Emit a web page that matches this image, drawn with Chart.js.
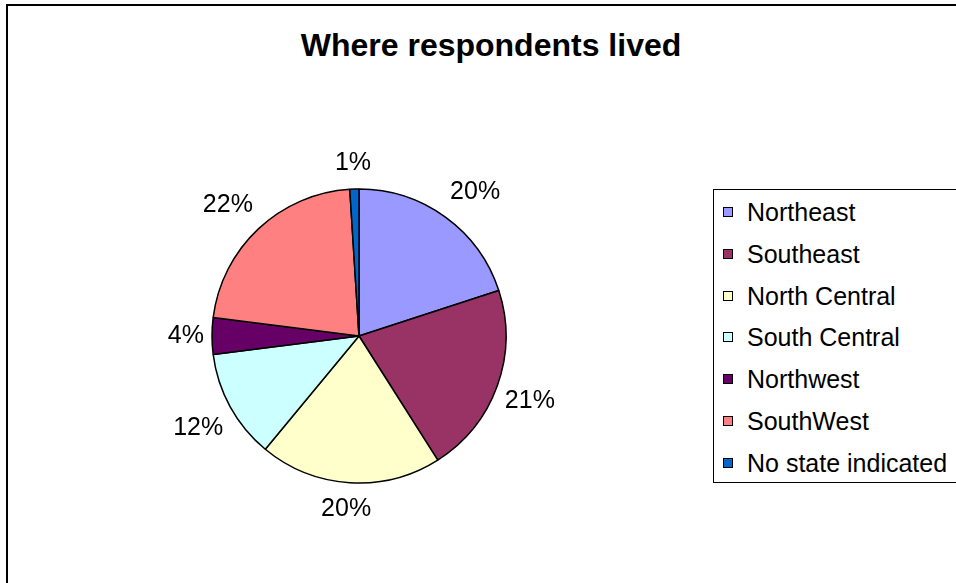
<!DOCTYPE html>
<html>
<head>
<meta charset="utf-8">
<title>Where respondents lived</title>
<script src="https://cdn.jsdelivr.net/npm/chart.js@4"></script>
<style>
  html, body { margin: 0; padding: 0; background: #fff; overflow: hidden; }
  body { width: 956px; height: 583px; position: relative; font-family: Arial, "Liberation Sans", sans-serif; }
  #frame { position: absolute; left: 6px; top: 4px; width: 1000px; height: 700px; border: 2px solid #000; box-sizing: border-box; }
  #title { position: absolute; left: 0; top: 28px; width: 982px; text-align: center; font-weight: bold; font-size: 32px; line-height: 34px; color: #000; }
  #chart { position: absolute; left: 0; top: 0; }
  #legend { position: absolute; left: 713px; top: 189px; width: 300px; height: 294px; border: 1px solid #000; box-sizing: border-box; background: #fff; }
  .item { position: absolute; left: 0; height: 30px; line-height: 30px; font-size: 25px; color: #000; white-space: nowrap; }
  .item span.box { position: absolute; left: 9px; top: 10px; width: 10px; height: 10px; border: 1px solid #000; box-sizing: border-box; }
  .item span.txt { position: absolute; left: 33px; top: 0; }
</style>
</head>
<body>
<div id="frame"></div>
<div id="title">Where respondents lived</div>
<canvas id="chart" width="956" height="583"></canvas>
<div id="legend"></div>

<script>
// Regions and share of respondents (%)
const regions = ["Northeast", "Southeast", "North Central", "South Central", "Northwest", "SouthWest", "No state indicated"];
const shares = [20, 21, 20, 12, 4, 22, 1];
const colors = ["#9999FF", "#993366", "#FFFFCC", "#CCFFFF", "#660066", "#FF8080", "#0066CC"];

const clamp = (v)=>Math.max(-1, Math.min(1, v));

// Percent labels outside each slice: a point just off the rim on the mid-angle,
// with the label box pushed outward from it
const sliceLabels = {
    id: "sliceLabels",
    afterDatasetsDraw(chart){
        const ctx = chart.ctx;
        const meta = chart.getDatasetMeta(0);
        const total = shares.reduce((a,b)=>a+b, 0);
        const gap = 8;
        const halfH = 18;

        ctx.save();
        ctx.font = "25px Arial, 'Liberation Sans', sans-serif";
        ctx.fillStyle = "#000";
        ctx.textAlign = "center";
        ctx.textBaseline = "middle";

        meta.data.forEach((arc,i)=>{
            const p = arc.getProps(["x","y","startAngle","endAngle","outerRadius"], true);
            const mid = (p.startAngle + p.endAngle) / 2;
            const dx = Math.cos(mid), dy = Math.sin(mid);
            const pct = Math.round(shares[i] / total * 100) + "%";
            const halfW = ctx.measureText(pct).width / 2;
            const r = p.outerRadius + gap;
            const x = p.x + dx * r + clamp(dx * 2) * halfW;
            const y = p.y + dy * r + clamp(dy * 2) * halfH;
            ctx.fillText(pct, x, y);
        });

        ctx.restore();
    }
};

new Chart(document.getElementById("chart"),{
    type: "pie",
    data: {
        labels: regions,
        datasets: [{
            data: shares,
            backgroundColor: colors,
            borderColor: "#000",
            borderWidth: 1.5
        }]
    },
    options: {
        responsive: false,
        animation: false,
        devicePixelRatio: 1,
        radius: 147,
        layout: { padding: { left: 200, right: 438, top: 180, bottom: 91 } },
        plugins: {
            legend: { display: false },
            tooltip: { enabled: false },
            title: { display: false }
        }
    },
    plugins: [sliceLabels]
});

// Legend box on the right
const legend = document.getElementById("legend");
regions.forEach((name,i)=>{
    const item = document.createElement("div");
    item.className = "item";
    item.style.top = (7 + i * 41.8) + "px";

    const box = document.createElement("span");
    box.className = "box";
    box.style.background = colors[i];

    const txt = document.createElement("span");
    txt.className = "txt";
    txt.innerText = name;

    item.appendChild(box);
    item.appendChild(txt);
    legend.appendChild(item);
});
</script>
</body>
</html>
